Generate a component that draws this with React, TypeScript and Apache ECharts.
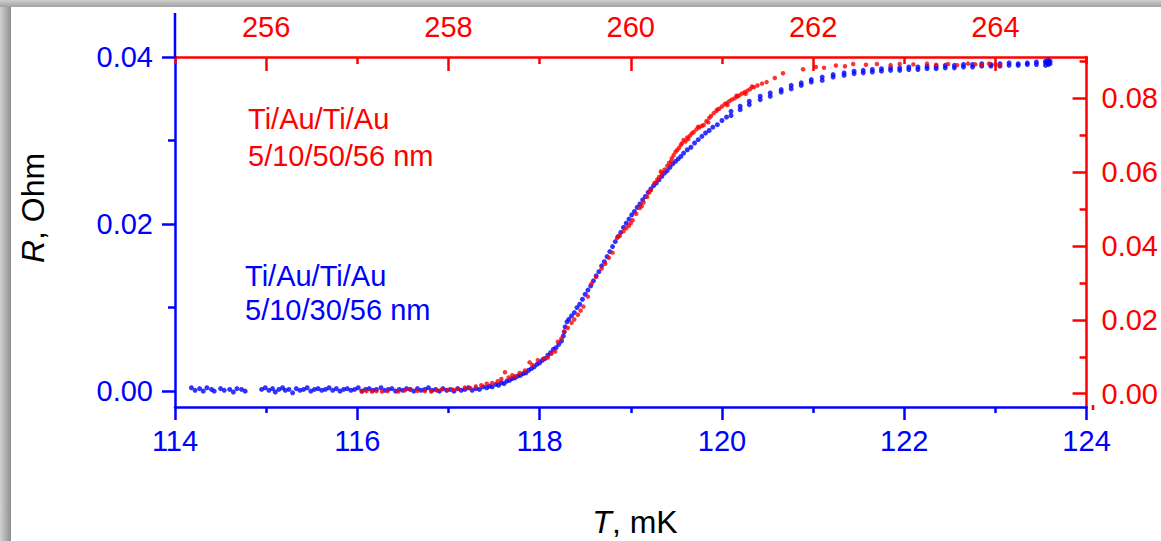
import React, { useEffect, useRef } from "react";
import * as echarts from "echarts";

// ---- Data ----
// Blue sample: Ti/Au/Ti/Au 5/10/30/56 nm  -> bottom T axis (mK), left R axis (Ohm)
const bluePoints: [number, number][] = [
  [114.18, 0.0004], [114.22, 0.0001], [114.27, 0.0003], [114.31, 0.0], [114.35, 0.0004], [114.4, 0.0002],
  [114.43, 0.0], [114.5, 0.0003], [114.54, 0.0001], [114.6, 0.0002], [114.64, -0.0001], [114.68, 0.0003],
  [114.73, 0.0002], [114.77, 0.0], [114.95, 0.0002], [114.99, 0.0004], [115.03, 0.0001], [115.07, 0.0003],
  [115.1, -0.0001], [115.14, 0.0002], [115.18, 0.0004], [115.21, 0.0001], [115.25, 0.0002], [115.29, -0.0002],
  [115.33, 0.0003], [115.37, 0.0001], [115.41, 0.0002], [115.45, 0.0004], [115.49, 0.0], [115.53, 0.0002],
  [115.57, 0.0003], [115.61, 0.0001], [115.65, 0.0002], [115.69, 0.0004], [115.73, 0.0001], [115.77, 0.0003],
  [115.81, 0.0], [115.85, 0.0002], [115.89, 0.0003], [115.93, 0.0001], [115.97, 0.0002], [116.01, 0.0004],
  [116.05, 0.0], [116.09, 0.0002], [116.13, 0.0003], [116.17, 0.0001], [116.21, 0.0002], [116.26, 0.0004],
  [116.3, 0.0001], [116.34, 0.0002], [116.38, 0.0003], [116.42, 0.0], [116.46, 0.0002], [116.5, 0.0001],
  [116.54, 0.0003], [116.58, 0.0002], [116.62, 0.0], [116.66, 0.0003], [116.7, 0.0001], [116.74, 0.0002],
  [116.78, 0.0004], [116.82, 0.0001], [116.86, 0.0002], [116.9, 0.0], [116.94, 0.0003], [116.98, 0.0001],
  [117.02, 0.0002], [117.06, 0.0], [117.1, 0.0003], [117.14, 0.0001], [117.18, 0.0002], [117.22, 0.0004],
  [117.26, 0.0001], [117.3, 0.0003], [117.34, 0.0002], [117.38, 0.0005], [117.42, 0.0004], [117.45, 0.0006],
  [117.48, 0.0005], [117.52, 0.0008], [117.55, 0.0007], [117.58, 0.001], [117.61, 0.0009], [117.64, 0.0012],
  [117.67, 0.0013], [117.7, 0.0015], [117.73, 0.0016], [117.76, 0.0018], [117.79, 0.0019], [117.82, 0.0021],
  [117.85, 0.0022], [117.88, 0.0025], [117.91, 0.0027], [117.94, 0.0029], [117.97, 0.0032], [118.0, 0.0034],
  [118.03, 0.0037], [118.06, 0.0039], [118.09, 0.0043], [118.12, 0.0046], [118.15, 0.005], [118.18, 0.0052],
  [118.21, 0.0056], [118.24, 0.006], [118.26, 0.0066], [118.27, 0.0071], [118.28, 0.0077], [118.3, 0.0083],
  [118.32, 0.0086], [118.35, 0.009], [118.38, 0.0094], [118.41, 0.01], [118.44, 0.0104], [118.47, 0.011],
  [118.5, 0.0116], [118.53, 0.0121], [118.56, 0.0126], [118.59, 0.0132], [118.62, 0.0138], [118.65, 0.0143],
  [118.68, 0.015], [118.71, 0.0155], [118.74, 0.0161], [118.77, 0.0167], [118.8, 0.0173], [118.83, 0.0179],
  [118.86, 0.0185], [118.89, 0.019], [118.92, 0.0196], [118.95, 0.0201], [118.98, 0.0206], [119.01, 0.0211],
  [119.04, 0.0215], [119.07, 0.022], [119.1, 0.0224], [119.13, 0.0229], [119.16, 0.0233], [119.19, 0.0238],
  [119.22, 0.0242], [119.25, 0.0246], [119.28, 0.0249], [119.31, 0.0253], [119.34, 0.0257], [119.37, 0.0261],
  [119.4, 0.0264], [119.43, 0.0268], [119.46, 0.0272], [119.49, 0.0275], [119.52, 0.0278], [119.55, 0.0281],
  [119.58, 0.0285], [119.62, 0.0289], [119.66, 0.0292], [119.7, 0.0297], [119.74, 0.0301], [119.78, 0.0305],
  [119.82, 0.0309], [119.86, 0.0312], [119.9, 0.0316], [119.95, 0.0319], [120.0, 0.0324], [120.05, 0.0328],
  [120.1, 0.033], [120.1, 0.0335], [120.2, 0.0337], [120.2, 0.0341], [120.3, 0.0343], [120.3, 0.0347],
  [120.42, 0.0349], [120.42, 0.0353], [120.53, 0.0353], [120.53, 0.0357], [120.65, 0.0358], [120.65, 0.0361],
  [120.76, 0.0362], [120.76, 0.0366], [120.87, 0.0366], [120.87, 0.0369], [120.98, 0.037], [120.98, 0.0373],
  [121.1, 0.0372], [121.1, 0.0376], [121.22, 0.0376], [121.22, 0.0379], [121.34, 0.0378], [121.34, 0.0381],
  [121.45, 0.038], [121.45, 0.0383], [121.55, 0.0381], [121.55, 0.0384], [121.65, 0.0382], [121.65, 0.0385],
  [121.75, 0.0383], [121.75, 0.0386], [121.85, 0.0384], [121.85, 0.0387], [121.95, 0.0384], [121.95, 0.0387],
  [122.05, 0.0385], [122.05, 0.0388], [122.15, 0.0385], [122.15, 0.0388], [122.25, 0.0386], [122.25, 0.0389],
  [122.35, 0.0386], [122.35, 0.0389], [122.45, 0.0387], [122.45, 0.039], [122.55, 0.0387], [122.55, 0.039],
  [122.65, 0.0388], [122.65, 0.0391], [122.75, 0.0388], [122.75, 0.0391], [122.85, 0.0389], [122.85, 0.0392],
  [122.95, 0.0389], [122.95, 0.0391], [123.05, 0.0389], [123.05, 0.0392], [123.15, 0.039], [123.15, 0.0393],
  [123.25, 0.039], [123.25, 0.0392], [123.35, 0.0391], [123.35, 0.0393], [123.45, 0.0391], [123.45, 0.0394],
  [123.55, 0.039], [123.55, 0.0393], [123.55, 0.0395], [123.58, 0.0391], [123.58, 0.0394], [123.58, 0.0396],
  [123.6, 0.0392], [123.6, 0.0395],
];

// Red sample: Ti/Au/Ti/Au 5/10/50/56 nm -> top T axis (mK), right R axis (Ohm)
const redPoints: [number, number][] = [
  [257.05, 0.0006], [257.1, 0.0007], [257.16, 0.0006], [257.21, 0.0007], [257.27, 0.0006], [257.33, 0.0007],
  [257.45, 0.0006], [257.52, 0.0009], [257.58, 0.0012], [257.66, 0.0008], [257.74, 0.0007], [257.81, 0.0006],
  [257.87, 0.0009], [257.93, 0.0012], [257.99, 0.001], [258.05, 0.0011], [258.11, 0.0013], [258.18, 0.0017],
  [258.24, 0.0015], [258.3, 0.002], [258.36, 0.0023], [258.42, 0.0027], [258.48, 0.0029], [258.54, 0.0034],
  [258.58, 0.004], [258.62, 0.0058], [258.66, 0.0044], [258.7, 0.005], [258.73, 0.0047], [258.78, 0.0056],
  [258.84, 0.0063], [258.89, 0.0085], [258.92, 0.0078], [258.98, 0.0091], [259.04, 0.0095], [259.09, 0.0098],
  [259.13, 0.0108], [259.17, 0.0114], [259.2, 0.0141], [259.24, 0.015], [259.27, 0.0168], [259.31, 0.0178],
  [259.35, 0.0192], [259.38, 0.0201], [259.42, 0.0214], [259.45, 0.0225], [259.48, 0.0236], [259.53, 0.0263],
  [259.57, 0.0298], [259.62, 0.0316], [259.68, 0.0339], [259.72, 0.0352], [259.76, 0.0368], [259.8, 0.0382],
  [259.85, 0.0422], [259.88, 0.0428], [259.92, 0.044], [259.95, 0.0448], [259.98, 0.0455], [260.0, 0.0462],
  [260.02, 0.047], [260.06, 0.0487], [260.1, 0.0503], [260.12, 0.0508], [260.14, 0.0518], [260.18, 0.0533],
  [260.2, 0.0545], [260.22, 0.0551], [260.26, 0.0571], [260.29, 0.058], [260.31, 0.0587], [260.33, 0.0602],
  [260.34, 0.0597], [260.37, 0.0607], [260.4, 0.0617], [260.42, 0.0625], [260.44, 0.0629], [260.45, 0.0638],
  [260.47, 0.0646], [260.49, 0.0655], [260.51, 0.066], [260.53, 0.0666], [260.55, 0.0674], [260.56, 0.0678],
  [260.58, 0.0687], [260.6, 0.0683], [260.62, 0.0694], [260.63, 0.069], [260.65, 0.0699], [260.67, 0.0705],
  [260.69, 0.0709], [260.72, 0.0716], [260.74, 0.0723], [260.75, 0.0721], [260.78, 0.0725], [260.8, 0.0728],
  [260.83, 0.0738], [260.85, 0.0735], [260.86, 0.0747], [260.88, 0.0752], [260.91, 0.076], [260.94, 0.0766],
  [260.95, 0.077], [260.97, 0.0772], [261.0, 0.0778], [261.03, 0.0784], [261.05, 0.0787], [261.06, 0.0782],
  [261.08, 0.0792], [261.11, 0.0797], [261.14, 0.08], [261.16, 0.0807], [261.17, 0.0805], [261.19, 0.0808],
  [261.22, 0.0813], [261.25, 0.0817], [261.26, 0.0812], [261.28, 0.0821], [261.31, 0.0825], [261.33, 0.0832],
  [261.35, 0.083], [261.39, 0.0835], [261.44, 0.084], [261.49, 0.0844], [261.58, 0.0855], [261.67, 0.0868],
  [261.89, 0.0879], [262.03, 0.0885], [262.12, 0.0883], [262.25, 0.0889], [262.35, 0.0887], [262.44, 0.0893],
  [262.58, 0.0891], [262.7, 0.0893], [262.85, 0.089], [262.95, 0.0893], [263.1, 0.0892], [263.25, 0.0894],
  [263.35, 0.0891], [263.48, 0.0893], [263.58, 0.089], [263.7, 0.0894], [263.78, 0.0892], [263.85, 0.0891],
  [263.93, 0.0894], [264.0, 0.0892], [264.05, 0.089],
];

// Axis ranges and ticks
const bottomRange = [114, 124];
const bottomInterval = 2;
const topRange = [255, 265];
const topMajor = [256, 258, 260, 262, 264];
const topMinor = [255, 257, 259, 261, 263, 265];
const leftRange = [-0.0019, 0.04];
const leftMajor = [0, 0.02, 0.04];
const leftMinor = [0.01, 0.03];
const rightRange = [-0.0036, 0.0912];
const rightMajor = [0, 0.02, 0.04, 0.06, 0.08];
const rightMinor = [0.01, 0.03, 0.05, 0.07, 0.09];

const blueLabel = ["Ti/Au/Ti/Au", "5/10/30/56 nm"];
const redLabel = ["Ti/Au/Ti/Au", "5/10/50/56 nm"];

const BLUE = "#0000ff";
const RED = "#ff0000";
const FONT = "'Liberation Sans', Arial, sans-serif";
const TICK_FS = 29;
const LW = 2.5;

export default function App() {
  const ref = useRef<HTMLDivElement>(null);
  useEffect(() => {
    if (!ref.current) return;
    const chart = echarts.init(ref.current, undefined, { renderer: "svg" });
    const fmt2 = (v: number) => v.toFixed(2);
    const line = (color: string) => ({ show: true, onZero: false, lineStyle: { color, width: LW } });
    const option: any = {
      animation: false,
      backgroundColor: "#ffffff",
      grid: { left: 175, right: 68, top: 57, bottom: 134, containLabel: false },
      xAxis: [
        {
          type: "value",
          position: "bottom",
          min: bottomRange[0],
          max: bottomRange[1],
          interval: bottomInterval,
          axisLine: line(BLUE),
          axisTick: { length: 13, lineStyle: { color: BLUE, width: LW } },
          minorTick: { show: true, splitNumber: 2, length: 6, lineStyle: { color: BLUE, width: LW } },
          axisLabel: { color: BLUE, fontSize: TICK_FS, fontFamily: FONT, margin: 19 },
          splitLine: { show: false },
          minorSplitLine: { show: false },
        },
        {
          type: "value",
          position: "top",
          min: topRange[0],
          max: topRange[1],
          axisLine: line(RED),
          axisTick: { inside: true, length: 14, customValues: topMajor, lineStyle: { color: RED, width: LW } },
          axisLabel: { customValues: topMajor, color: RED, fontSize: TICK_FS, fontFamily: FONT, margin: 16 },
          splitLine: { show: false },
        },
        {
          type: "value",
          position: "top",
          min: topRange[0],
          max: topRange[1],
          axisLine: { show: false, onZero: false },
          axisTick: { inside: true, length: 7, customValues: topMinor, lineStyle: { color: RED, width: LW } },
          axisLabel: { show: false },
          splitLine: { show: false },
        },
      ],
      yAxis: [
        {
          type: "value",
          position: "left",
          min: leftRange[0],
          max: leftRange[1],
          axisLine: line(BLUE),
          axisTick: { show: true, length: 13, customValues: leftMajor, lineStyle: { color: BLUE, width: LW } },
          axisLabel: {
            customValues: leftMajor,
            formatter: fmt2,
            color: BLUE,
            fontSize: TICK_FS,
            fontFamily: FONT,
            margin: 22,
          },
          splitLine: { show: false },
        },
        {
          type: "value",
          position: "right",
          min: rightRange[0],
          max: rightRange[1],
          axisLine: line(RED),
          axisTick: { show: true, inside: true, length: 14, customValues: rightMajor, lineStyle: { color: RED, width: LW } },
          axisLabel: {
            customValues: rightMajor,
            formatter: fmt2,
            color: RED,
            fontSize: TICK_FS,
            fontFamily: FONT,
            margin: 15,
          },
          splitLine: { show: false },
        },
        {
          type: "value",
          position: "left",
          min: leftRange[0],
          max: leftRange[1],
          axisLine: { show: false, onZero: false },
          axisTick: { show: true, length: 7, customValues: leftMinor, lineStyle: { color: BLUE, width: LW } },
          axisLabel: { show: false },
          splitLine: { show: false },
        },
        {
          type: "value",
          position: "right",
          min: rightRange[0],
          max: rightRange[1],
          axisLine: { show: false, onZero: false },
          axisTick: { show: true, inside: true, length: 7, customValues: rightMinor, lineStyle: { color: RED, width: LW } },
          axisLabel: { show: false },
          splitLine: { show: false },
        },
      ],
      series: [
        {
          type: "scatter",
          name: "5/10/30/56 nm",
          xAxisIndex: 0,
          yAxisIndex: 0,
          data: bluePoints,
          symbol: "circle",
          symbolSize: 5,
          itemStyle: { color: BLUE },
          z: 2,
        },
        {
          type: "scatter",
          name: "5/10/50/56 nm",
          xAxisIndex: 1,
          yAxisIndex: 1,
          data: redPoints,
          symbol: "circle",
          symbolSize: 4.5,
          itemStyle: { color: RED },
          z: 3,
        },
      ],
      graphic: [
        {
          type: "rect",
          shape: { x: 0, y: 0, width: 11, height: 541 },
          style: {
            fill: new echarts.graphic.LinearGradient(0, 0, 1, 0, [
              { offset: 0, color: "#d2d2d2" },
              { offset: 1, color: "#8e8e8e" },
            ]),
          },
          z: 10,
        },
        {
          type: "rect",
          shape: { x: 0, y: 0, width: 1161, height: 7 },
          style: {
            fill: new echarts.graphic.LinearGradient(0, 0, 0, 1, [
              { offset: 0, color: "#cfcfcf" },
              { offset: 1, color: "#a0a0a0" },
            ]),
          },
          z: 10,
        },
        {
          type: "line",
          shape: { x1: 175, y1: 13, x2: 175, y2: 58 },
          style: { stroke: BLUE, lineWidth: LW },
          z: 5,
        },
        {
          type: "line",
          shape: { x1: 1093, y1: 405, x2: 1093, y2: 410 },
          style: { stroke: RED, lineWidth: LW },
          z: 5,
        },
        {
          type: "text",
          x: 248,
          y: 100,
          style: {
            text: redLabel.join("\n"),
            fill: RED,
            fontSize: 29,
            fontFamily: FONT,
            lineHeight: 37,
          },
        },
        {
          type: "text",
          x: 245,
          y: 259,
          style: {
            text: blueLabel.join("\n"),
            fill: BLUE,
            fontSize: 29,
            fontFamily: FONT,
            lineHeight: 34,
          },
        },
        {
          type: "text",
          x: 33,
          y: 208,
          rotation: Math.PI / 2,
          style: {
            text: "{i|R}, Ohm",
            fill: "#000",
            fontSize: 32,
            fontFamily: FONT,
            align: "center",
            verticalAlign: "middle",
            rich: { i: { fontStyle: "italic", fontSize: 32, fontFamily: FONT, fill: "#000" } },
          },
        },
        {
          type: "text",
          x: 635,
          y: 522,
          style: {
            text: "{i|T}, mK",
            fill: "#000",
            fontSize: 32,
            fontFamily: FONT,
            align: "center",
            verticalAlign: "middle",
            rich: { i: { fontStyle: "italic", fontSize: 32, fontFamily: FONT, fill: "#000" } },
          },
        },
      ],
    };
    chart.setOption(option);
    return () => chart.dispose();
  }, []);
  return (
    <div
      ref={ref}
      style={{ position: "fixed", left: 0, top: 0, width: 1161, height: 541, background: "#fff" }}
    />
  );
}
